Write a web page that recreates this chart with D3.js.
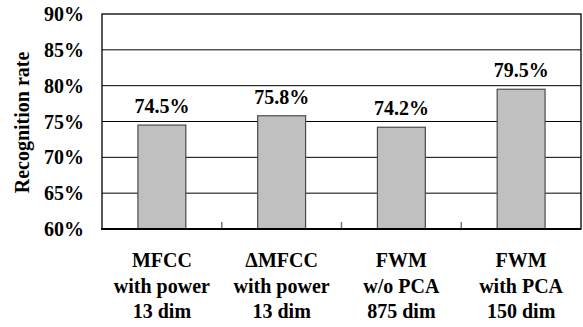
<!DOCTYPE html>
<html><head><meta charset="utf-8">
<script src="https://cdn.jsdelivr.net/npm/d3@7"></script>
<style>body{margin:0;background:#fff}svg{display:block}</style>
</head><body>
<script>
const categories = [["MFCC","with power","13 dim"],["\u0394MFCC","with power","13 dim"],["FWM","w/o PCA","875 dim"],["FWM","with PCA","150 dim"]];
const values = [74.5, 75.8, 74.2, 79.5];
const valueLabels = ["74.5%","75.8%","74.2%","79.5%"];
const yTicks = [60,65,70,75,80,85,90];

const W=583,H=327, L=102, R=581, T=14, B=229;
const FONT="Tinos, Times, serif";
const svg=d3.select("body").append("svg").attr("width",W).attr("height",H);
function txt(sel,size){return sel.style("font-family",FONT).style("font-weight","bold").style("font-size",size+"px").attr("fill","#000");}
const x=d3.scaleBand().domain(d3.range(categories.length)).range([L,R]).paddingInner(0.6).paddingOuter(0.3);
const y=d3.scaleLinear().domain([60,90]).range([B,T]);

svg.selectAll("line.grid").data(yTicks.slice(1,-1)).enter().append("line")
  .attr("x1",L).attr("x2",R).attr("y1",d=>y(d)).attr("y2",d=>y(d)).attr("stroke","#000").attr("stroke-width",1);
svg.append("rect").attr("x",L).attr("y",T).attr("width",R-L).attr("height",B-T).attr("fill","none").attr("stroke","#000").attr("stroke-width",1.3);
svg.selectAll("rect.bar").data(values).enter().append("rect")
  .attr("x",(d,i)=>x(i)).attr("y",d=>y(d)).attr("width",x.bandwidth()).attr("height",d=>B-y(d))
  .attr("fill","#c0c0c0").attr("stroke","#4a4a4a").attr("stroke-width",1.2);
const step=x.step();
svg.selectAll("line.tk").data(d3.range(1,categories.length)).enter().append("line")
  .attr("x1",i=>L+i*step).attr("x2",i=>L+i*step).attr("y1",B-7).attr("y2",B).attr("stroke","#777").attr("stroke-width",1.5);
svg.append("line").attr("x1",L-1).attr("x2",R).attr("y1",B).attr("y2",B).attr("stroke","#000").attr("stroke-width",2);
txt(svg.selectAll("text.yt").data(yTicks).enter().append("text")
  .attr("x",84).attr("y",d=>y(d)).attr("dy","0.35em").attr("text-anchor","end").text(d=>d+"%"),20);
txt(svg.selectAll("text.vl").data(values).enter().append("text")
  .attr("x",(d,i)=>x(i)+x.bandwidth()/2).attr("y",d=>y(d)-12).attr("text-anchor","middle")
  .text((d,i)=>valueLabels[i]),20);
categories.forEach((lines,i)=>{
  const t=txt(svg.append("text").attr("text-anchor","middle"),20);
  lines.forEach((s,j)=>t.append("tspan").attr("x",x(i)+x.bandwidth()/2).attr("y",267+j*25.5).text(s));
});
txt(svg.append("text").attr("transform","translate(29,"+((T+B)/2+1)+") rotate(-90)").attr("text-anchor","middle").text("Recognition rate"),20);
</script>
</body></html>
